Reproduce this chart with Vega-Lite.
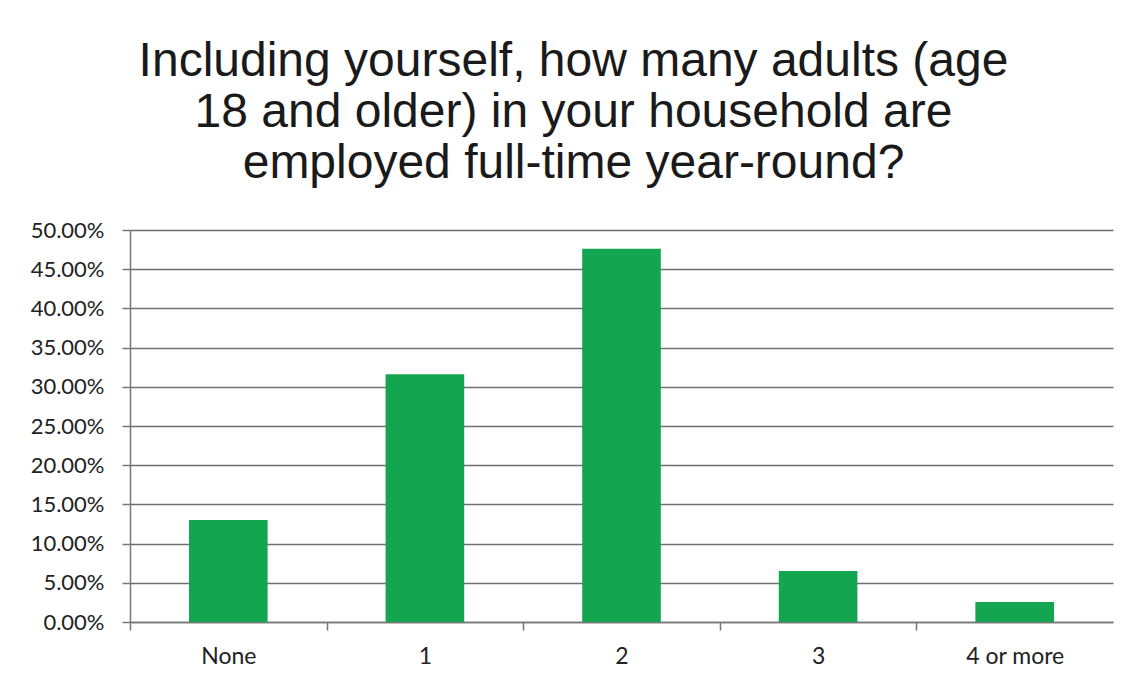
{
  "$schema": "https://vega.github.io/schema/vega-lite/v6.json",
  "autosize": {"type": "none"},
  "width": 983,
  "height": 392,
  "padding": {"left": 130, "top": 230, "right": 19, "bottom": 64},
  "background": "white",
  "title": {
    "text": ["Including yourself, how many adults (age", "18 and older) in your household are", "employed full-time year-round?"],
    "font": "Liberation Sans",
    "fontSize": 48,
    "fontWeight": "normal",
    "color": "#1a1a1a",
    "lineHeight": 51,
    "anchor": "middle",
    "dx": -48,
    "offset": 31
  },
  "data": {
    "values": [
      {"category": "None", "pct": 0.130},
      {"category": "1", "pct": 0.316},
      {"category": "2", "pct": 0.476},
      {"category": "3", "pct": 0.065},
      {"category": "4 or more", "pct": 0.0255}
    ]
  },
  "mark": {"type": "bar", "color": "#14a550"},
  "encoding": {
    "x": {
      "field": "category",
      "type": "nominal",
      "sort": null,
      "scale": {"paddingInner": 0.6, "paddingOuter": 0.3},
      "axis": {
        "title": null,
        "labelAngle": 0,
        "labelFont": "Lato",
        "labelFontSize": 23,
        "labelColor": "#222",
        "labelPadding": 15,
        "tickOffset": -98.3,
        "labelOffset": 98.3,
        "tickSize": 8,
        "tickColor": "#777",
        "tickWidth": 1.5,
        "domainColor": "#777",
        "domainWidth": 1.5,
        "grid": false
      }
    },
    "y": {
      "field": "pct",
      "type": "quantitative",
      "scale": {"domain": [0, 0.5], "nice": false},
      "axis": {
        "title": null,
        "format": ".2%",
        "values": [0, 0.05, 0.1, 0.15, 0.2, 0.25, 0.3, 0.35, 0.4, 0.45, 0.5],
        "labelFont": "Lato",
        "labelFontSize": 22,
        "labelColor": "#222",
        "labelPadding": 18,
        "tickSize": 8,
        "tickColor": "#777",
        "tickWidth": 1.5,
        "domainColor": "#777",
        "domainWidth": 1.5,
        "gridColor": "#6f6f6f",
        "gridWidth": 1.5,
        "gridOpacity": 1
      }
    }
  },
  "config": {"view": {"stroke": null}}
}
